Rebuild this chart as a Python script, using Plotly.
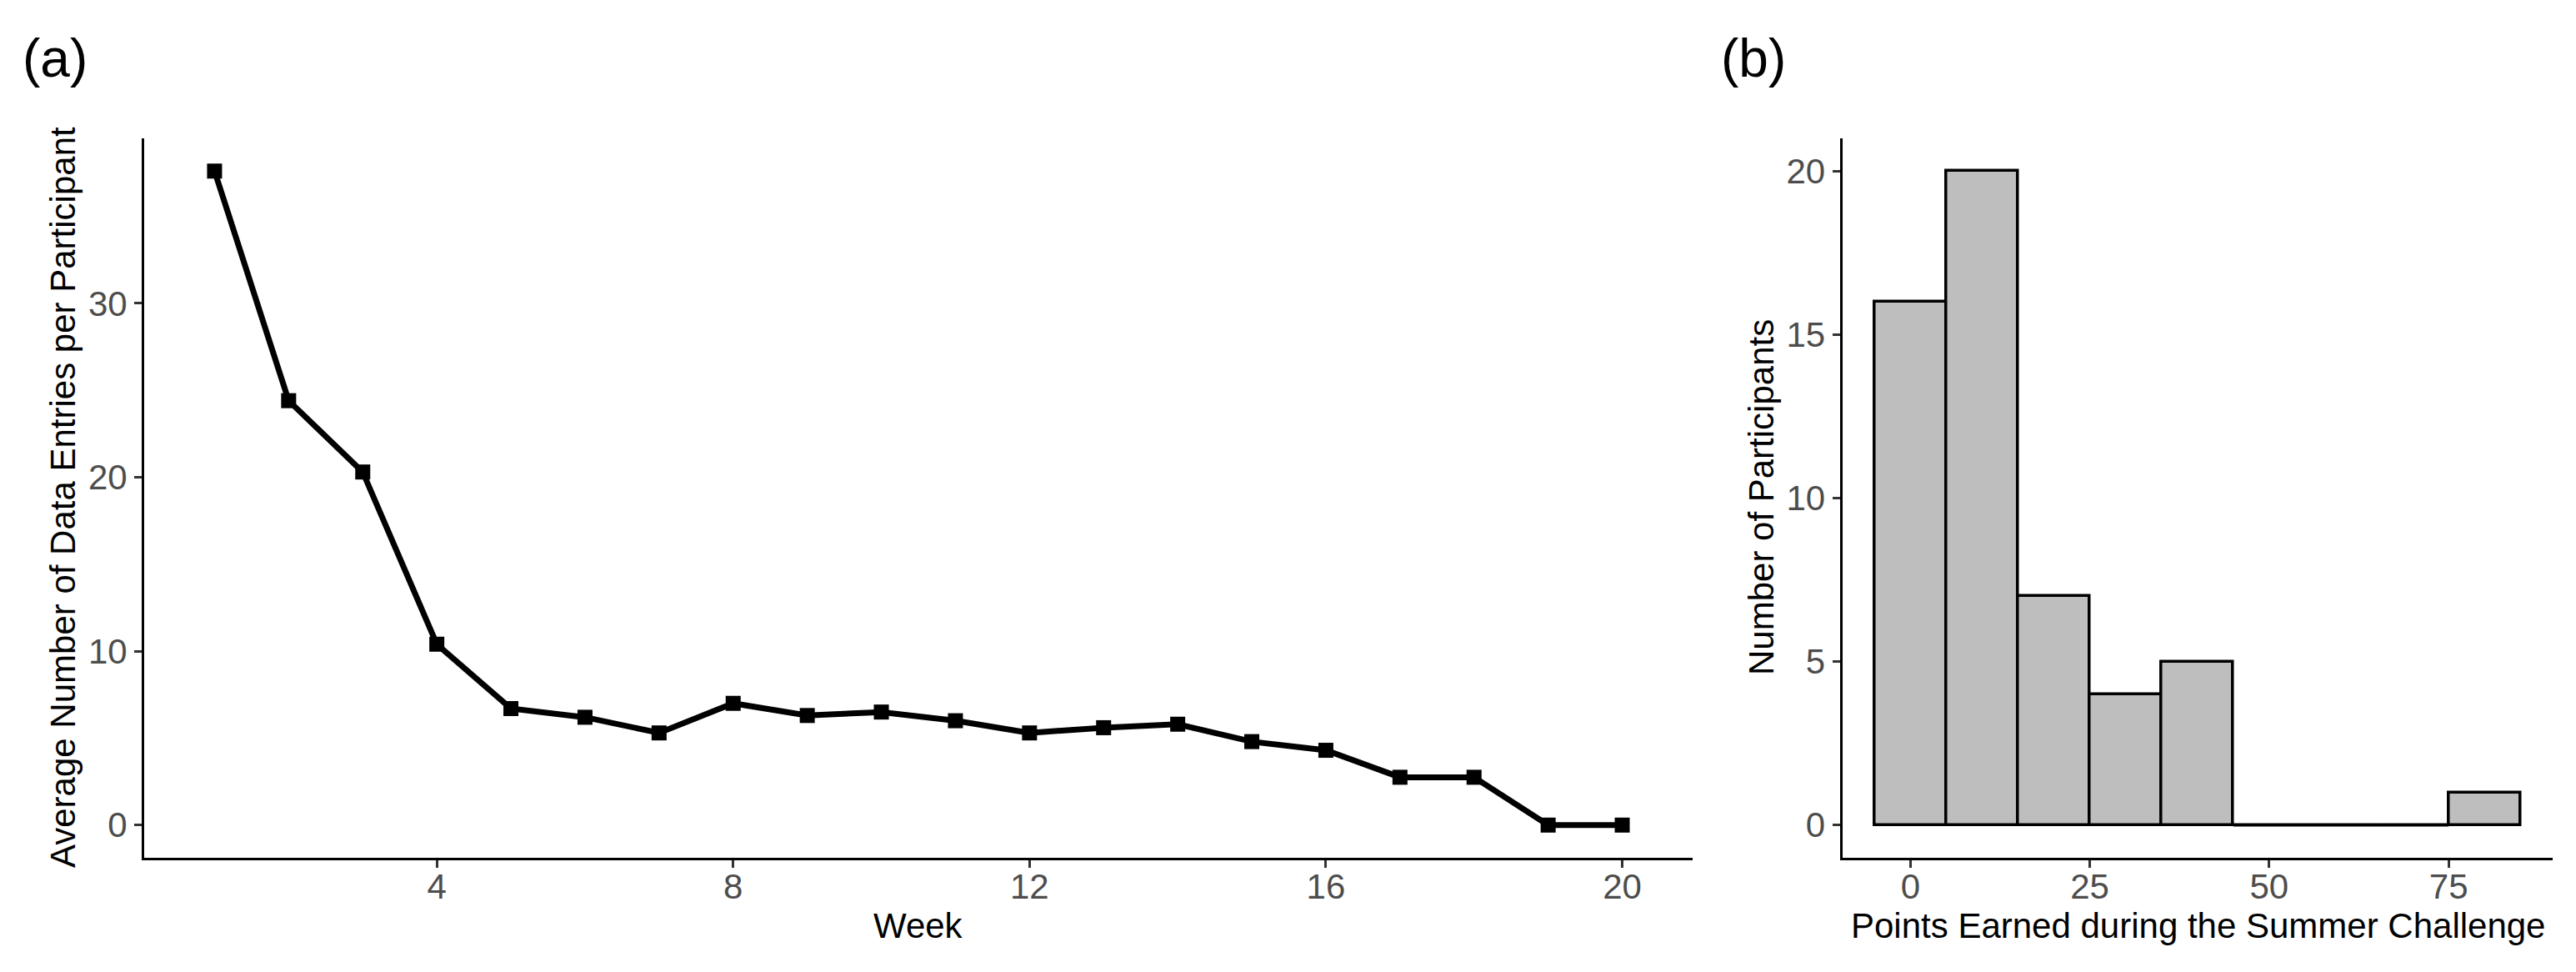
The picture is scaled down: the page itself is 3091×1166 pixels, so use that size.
import plotly.graph_objects as go

# ---- data (a) ----
weeks = list(range(1, 21))
avg_entries = [37.6, 24.4, 20.3, 10.4, 6.7, 6.2, 5.3, 7.0, 6.3, 6.5,
               6.0, 5.3, 5.6, 5.8, 4.8, 4.3, 2.75, 2.75, 0.0, 0.0]
x1_ticks = [4, 8, 12, 16, 20]
y1_ticks = [0, 10, 20, 30]

# ---- data (b) ----
bin_centers = [0, 10, 20, 30, 40, 50, 60, 70, 80]
bin_counts = [16, 20, 7, 4, 5, 0, 0, 0, 1]
bin_width = 10
x2_ticks = [0, 25, 50, 75]
y2_ticks = [0, 5, 10, 15, 20]

W, H = 3091, 1166
FONT = "Liberation Sans, Arial, sans-serif"
TICK_COLOR = "#4D4D4D"


def px_x(p):
    return p / W


def px_y(p):
    return 1 - p / H


def expand(lo, hi, frac=0.05):
    pad = (hi - lo) * frac
    return [lo - pad, hi + pad]


fig = go.Figure()

fig.add_trace(go.Scatter(
    x=weeks, y=avg_entries, mode="lines+markers",
    line=dict(color="black", width=7),
    marker=dict(symbol="square", size=18, color="black"),
    xaxis="x", yaxis="y", showlegend=False,
))

fig.add_trace(go.Bar(
    x=bin_centers, y=bin_counts, width=bin_width,
    marker=dict(color="#BEBEBE", line=dict(color="black", width=3.5)),
    xaxis="x2", yaxis="y2", showlegend=False,
))

# zero-count bins are drawn as a flat line at zero (as ggplot does)
zero_edges = [c - bin_width / 2 for c, n in zip(bin_centers, bin_counts) if n == 0] + \
             [c + bin_width / 2 for c, n in zip(bin_centers, bin_counts) if n == 0]
if zero_edges:
    fig.add_trace(go.Scatter(
        x=[min(zero_edges), max(zero_edges)], y=[0, 0], mode="lines",
        line=dict(color="black", width=3.5),
        xaxis="x2", yaxis="y2", showlegend=False, hoverinfo="skip",
    ))

bin_lo = min(bin_centers) - bin_width / 2
bin_hi = max(bin_centers) + bin_width / 2

axis_common = dict(
    showgrid=False, zeroline=False, showline=True, linecolor="black", linewidth=3,
    ticks="outside", ticklen=9, tickwidth=3, tickcolor="#333333",
    tickfont=dict(family=FONT, size=42, color=TICK_COLOR),
    automargin=False,
)
xaxis_extra = dict(ticklabelstandoff=-13)

ydom = [px_y(1029), px_y(166)]

fig.update_layout(
    width=W, height=H,
    margin=dict(l=0, r=0, t=0, b=0),
    paper_bgcolor="white", plot_bgcolor="white",
    bargap=0,
    xaxis=dict(domain=[px_x(173), px_x(2031)], range=expand(min(weeks), max(weeks)),
               tickvals=x1_ticks, anchor="y", **axis_common, **xaxis_extra),
    yaxis=dict(domain=ydom, range=expand(min(avg_entries), max(avg_entries)),
               tickvals=y1_ticks, anchor="x", **axis_common),
    xaxis2=dict(domain=[px_x(2210.5), px_x(3063)], range=expand(bin_lo, bin_hi),
                tickvals=x2_ticks, anchor="y2", **axis_common, **xaxis_extra),
    yaxis2=dict(domain=ydom, range=expand(0, max(bin_counts)),
                tickvals=y2_ticks, anchor="x2", **axis_common),
)

title_font = dict(family=FONT, size=42, color="black")
ann = [
    dict(text="(a)", x=px_x(25), y=px_y(70), xanchor="left", yanchor="middle",
         font=dict(family=FONT, size=64, color="black")),
    dict(text="(b)", x=px_x(2063), y=px_y(70), xanchor="left", yanchor="middle",
         font=dict(family=FONT, size=64, color="black")),
    dict(text="Week", x=px_x(1102), y=px_y(1110), xanchor="center", yanchor="middle",
         font=title_font),
    dict(text="Points Earned during the Summer Challenge", x=px_x(2637), y=px_y(1110),
         xanchor="center", yanchor="middle", font=title_font),
    dict(text="Average Number of Data Entries per Participant", x=px_x(75), y=px_y(597),
         xanchor="center", yanchor="middle", textangle=-90, font=title_font),
    dict(text="Number of Participants", x=px_x(2113), y=px_y(597),
         xanchor="center", yanchor="middle", textangle=-90, font=title_font),
]
for a in ann:
    a.update(xref="paper", yref="paper", showarrow=False)
fig.update_layout(annotations=ann)

fig.write_html("out.html", config={"displayModeBar": False},
               post_script="document.body.style.margin='0';")
